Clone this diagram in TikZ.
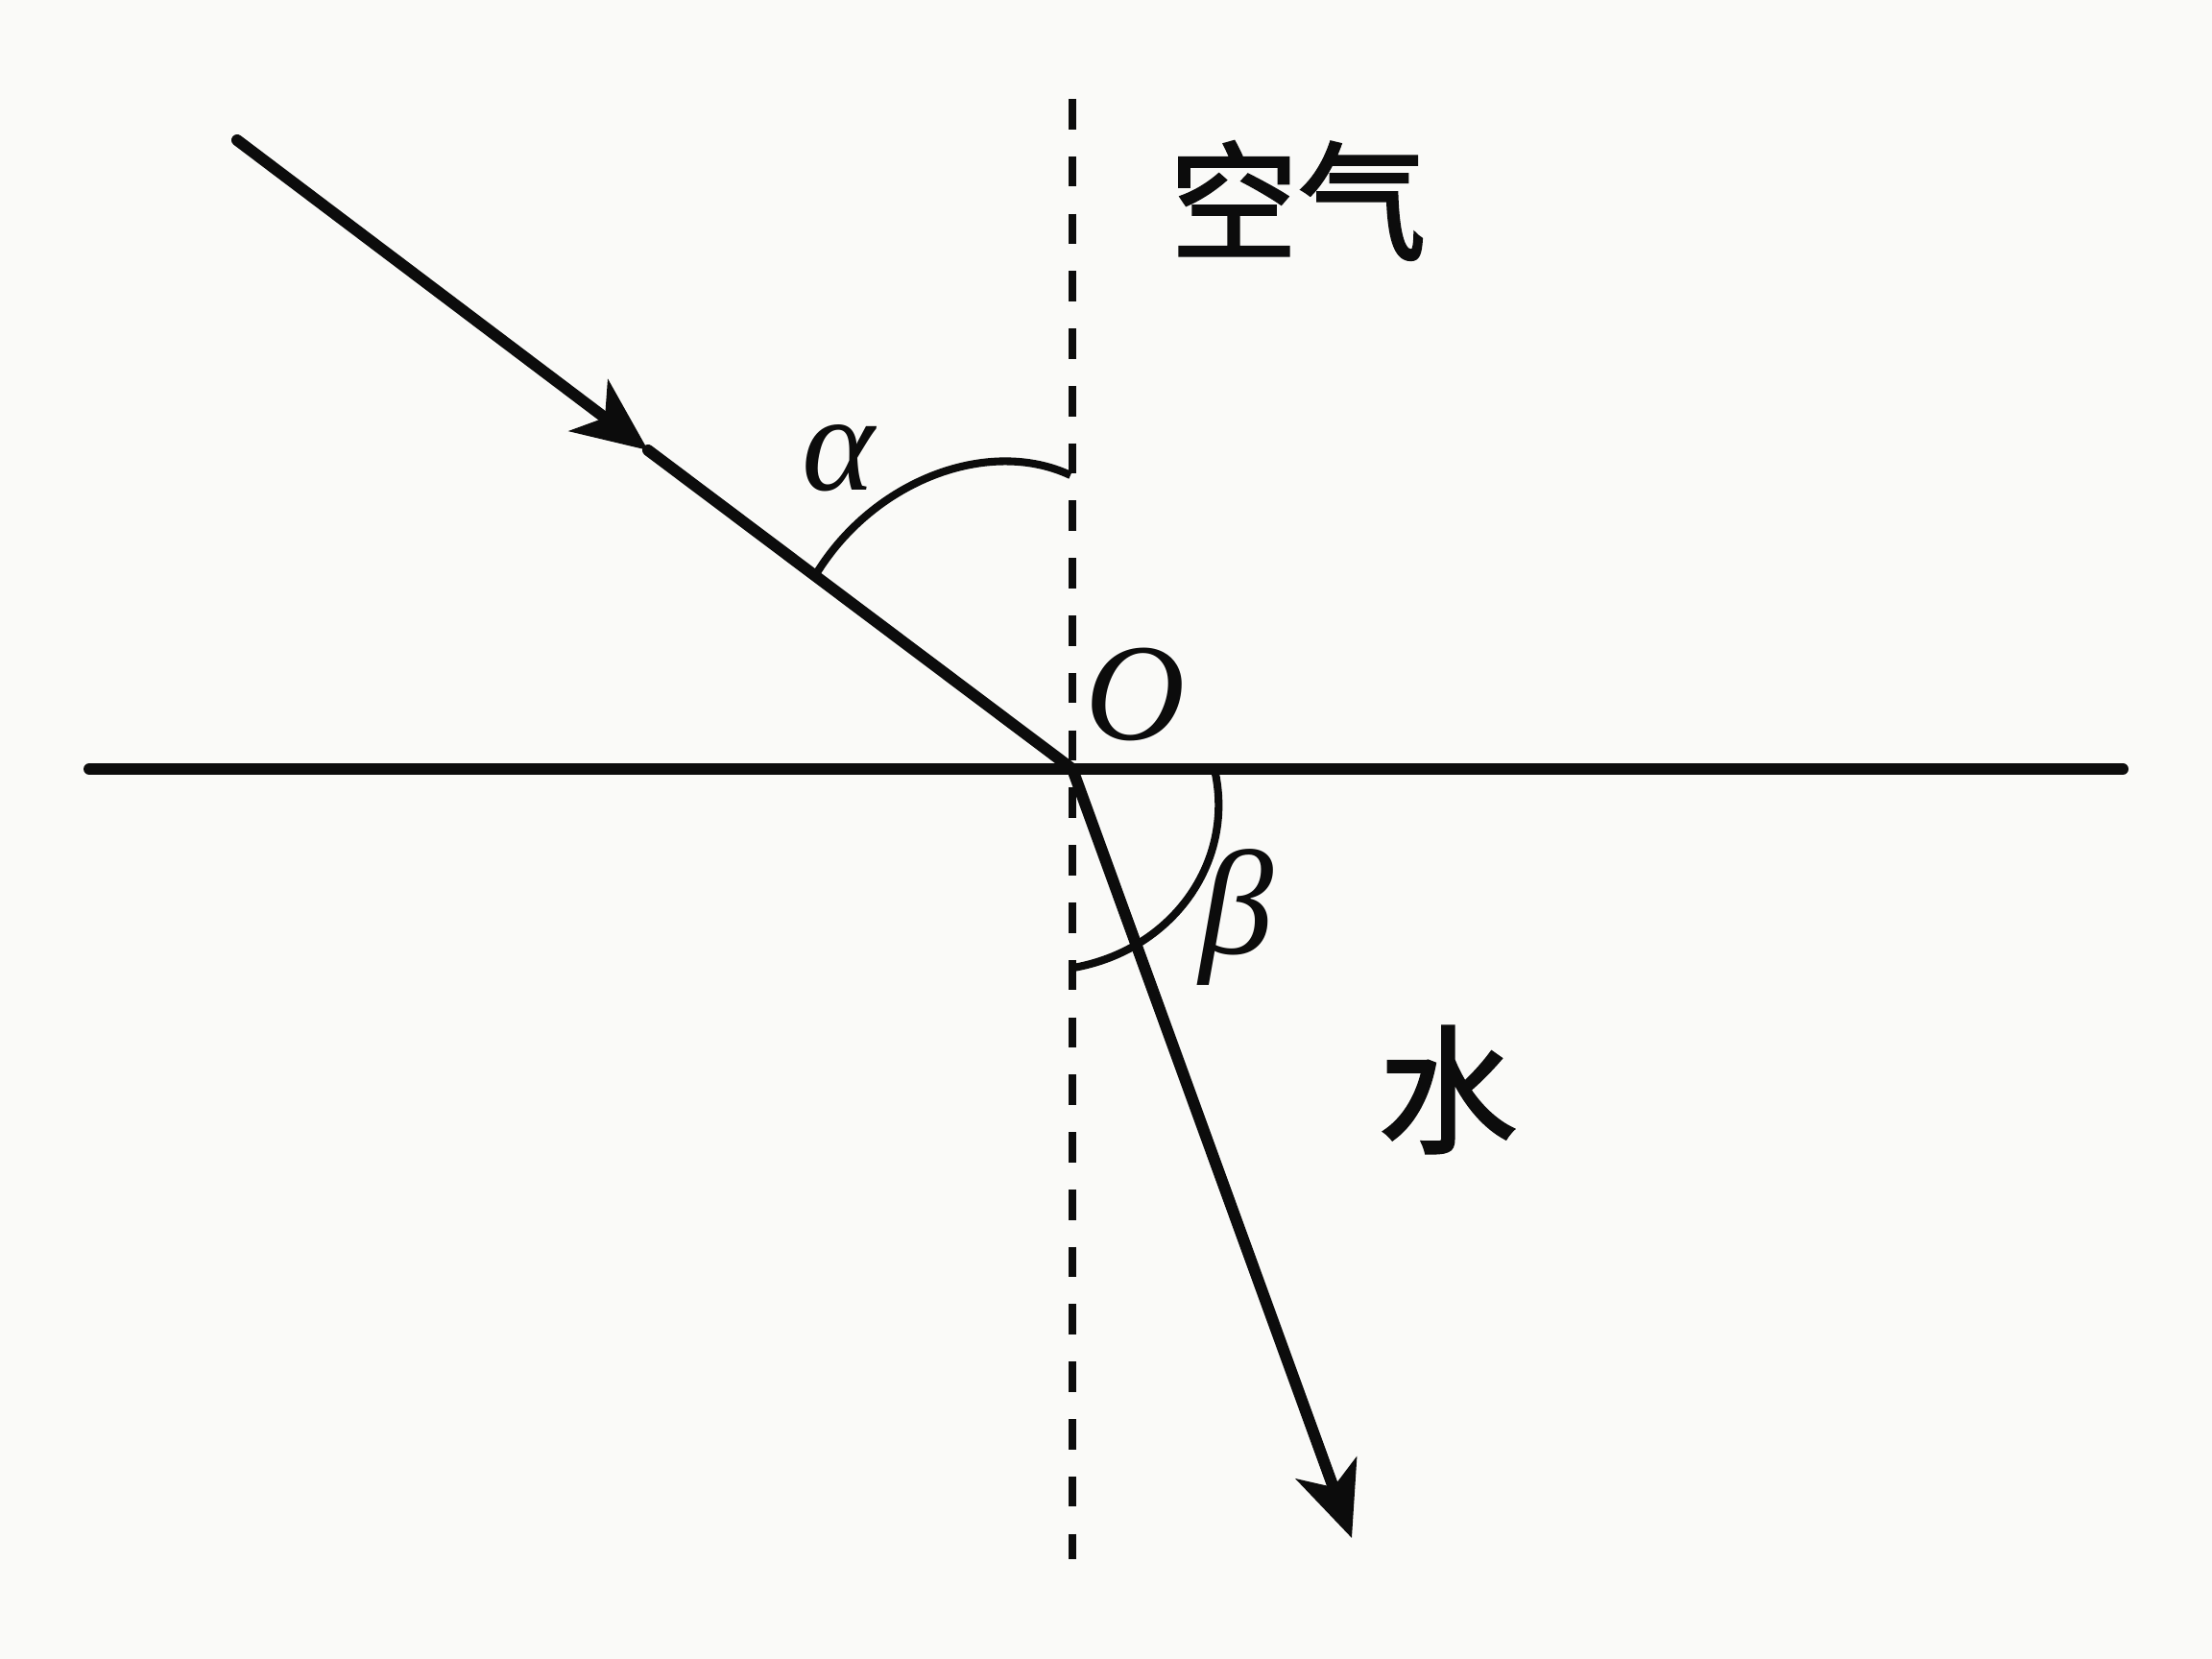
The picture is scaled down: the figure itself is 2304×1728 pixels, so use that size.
\documentclass[tikz,border=0pt]{standalone}
\usepackage{fontspec}
\newfontfamily\cjk[FakeBold=2]{Noto Sans CJK SC}
\newfontfamily\grk{Liberation Serif}
\usetikzlibrary{arrows.meta}
\definecolor{bgc}{RGB}{250,250,248}
\definecolor{ink}{RGB}{12,12,12}
\begin{document}
\begin{tikzpicture}[x=0.01cm,y=-0.01cm,
  ray/.style={draw=ink, line width=3.4pt, line cap=round},
  tipped/.style={-{Stealth[length=22pt,width=19pt,inset=6pt]}},
  normalline/.style={draw=ink, line width=2.3pt, dash pattern=on 9pt off 8pt},
  anglearc/.style={draw=ink, line width=2.3pt},
  lbl/.style={inner sep=0pt, text=ink, font=\grk\itshape\fontsize{41}{48}\selectfont},
  zh/.style={inner sep=0pt, text=ink, font=\cjk\fontsize{38}{46}\selectfont}]
\fill[bgc] (0,0) rectangle (2304,1728);
\useasboundingbox (0,0) rectangle (2304,1728);
% key points
\coordinate (O) at (1117,801);
\coordinate (IL) at (93,801);
\coordinate (IR) at (2211,801);
\coordinate (NT) at (1117,103);
\coordinate (NB) at (1117,1624);
\coordinate (A) at (247,146);
\coordinate (T) at (675,469);
\coordinate (R) at (1408,1602);
% normal (dashed)
\draw[normalline] (NT) -- (NB);
% interface
\draw[ray] (IL) -- (IR);
% incident ray
\draw[ray, tipped] (A) -- (T);
\draw[ray] (T) -- (O);
% refracted ray
\draw[ray, tipped] (O) -- (R);
% angle arcs
\coordinate (a1) at (850,598);
\coordinate (a2) at (1115,495);
\draw[anglearc] (a1) .. controls (910,500) and (1030,455) .. (a2);
\coordinate (b1) at (1266,806);
\coordinate (b2) at (1118,1008);
\draw[anglearc] (b1) .. controls (1285,900) and (1220,990) .. (b2);
% labels
\node[lbl] (alpha) at (873,477) {α};
\node[lbl, font=\grk\itshape\fontsize{44}{52}\selectfont] (beta) at (1288,955) {β};
\node[lbl] (Olbl) at (1183,723) {O};
\node[zh] (air) at (1352,209) {空气};
\node[zh, font=\cjk\fontsize{41}{48}\selectfont] (water) at (1508,1135) {水};
\end{tikzpicture}
\end{document}
